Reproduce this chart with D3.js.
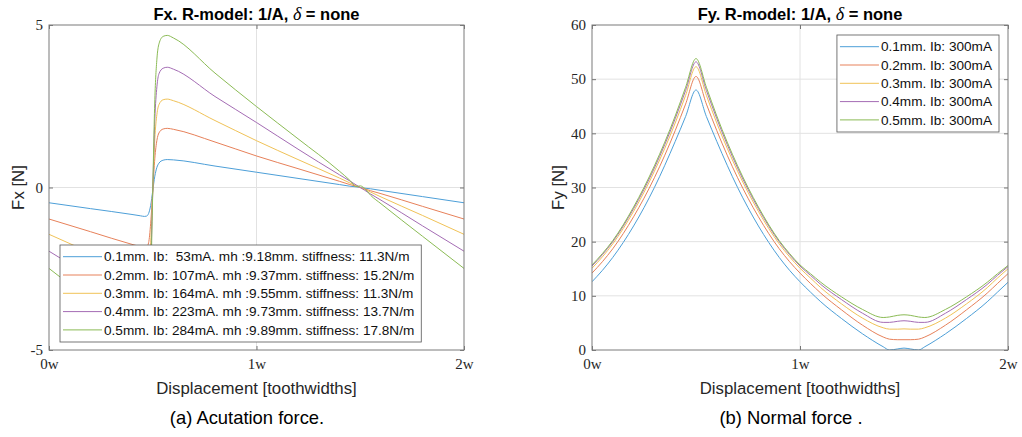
<!DOCTYPE html>
<html>
<head>
<meta charset="utf-8">
<script src="https://cdn.jsdelivr.net/npm/d3@7"></script>
<style>
  body { margin: 0; background: #fff; }
  svg { display: block; }
  .tick text { font-family: "Liberation Serif", serif; font-size: 15px; fill: #262626; }
  .lbl { font-family: "Liberation Sans", Arial, sans-serif; fill: #262626; }
</style>
</head>
<body>
<div id="chart"></div>
<script>
// ---- data ----
const X_TICKS = [0, 1, 2];
const X_TICK_LABELS = ["0w", "1w", "2w"];

// actuation force Fx [N]
const FX_X = [0, 0.2, 0.4, 0.44, 0.46, 0.47, 0.48, 0.49, 0.5, 0.51, 0.52, 0.53, 0.55, 0.57, 0.6, 0.8, 1.0, 1.2, 1.4, 1.45, 1.48, 1.5, 1.52, 1.55, 1.6, 1.8, 2.0];
const FX_01 = [-0.47, -0.65, -0.83, -0.87, -0.89, -0.88, -0.8, -0.55, -0.1, 0.35, 0.62, 0.75, 0.84, 0.86, 0.85, 0.66, 0.47, 0.28, 0.09, 0.04, 0.02, 0.0, -0.02, -0.04, -0.09, -0.28, -0.47];
const FX_02 = [-0.97, -1.36, -1.75, -1.82, -1.85, -1.84, -1.7, -1.1, -0.1, 0.9, 1.45, 1.68, 1.8, 1.82, 1.79, 1.4, 0.97, 0.58, 0.19, 0.09, 0.04, 0.0, -0.04, -0.1, -0.19, -0.58, -0.97];
const FX_03 = [-1.44, -2.01, -2.58, -2.68, -2.74, -2.74, -2.6, -1.7, -0.1, 1.5, 2.25, 2.55, 2.7, 2.72, 2.67, 2.06, 1.44, 0.86, 0.29, 0.14, 0.06, 0.0, -0.06, -0.14, -0.29, -0.86, -1.44];
const FX_04 = [-1.96, -2.74, -3.53, -3.65, -3.7, -3.7, -3.5, -2.4, -0.1, 2.1, 3.1, 3.5, 3.67, 3.7, 3.64, 2.8, 2.0, 1.18, 0.39, 0.2, 0.08, 0.0, -0.08, -0.2, -0.39, -1.18, -1.96];
const FX_05 = [-2.49, -3.48, -4.47, -4.62, -4.67, -4.66, -4.4, -3.0, -0.1, 2.7, 3.95, 4.42, 4.65, 4.68, 4.6, 3.52, 2.49, 1.5, 0.5, 0.22, 0.03, 0.05, -0.02, -0.24, -0.5, -1.5, -2.49];
const FX_Y_TICKS = [-5, 0, 5];
const FX_LABELS = [
  "0.1mm. Ib:  53mA. mh :9.18mm. stiffness: 11.3N/m",
  "0.2mm. Ib: 107mA. mh :9.37mm. stiffness: 15.2N/m",
  "0.3mm. Ib: 164mA. mh :9.55mm. stiffness: 11.3N/m",
  "0.4mm. Ib: 223mA. mh :9.73mm. stiffness: 13.7N/m",
  "0.5mm. Ib: 284mA. mh :9.89mm. stiffness: 17.8N/m"
];

// normal force Fy [N]
const FY_X = [0, 0.05, 0.1, 0.2, 0.3, 0.4, 0.45, 0.5, 0.55, 0.6, 0.7, 0.8, 0.9, 0.95, 1.0, 1.05, 1.1, 1.2, 1.3, 1.4, 1.43, 1.47, 1.5, 1.53, 1.57, 1.6, 1.7, 1.8, 1.9, 1.95, 2.0];
const FY_01 = [12.6, 14.7, 17.1, 22.9, 30.0, 38.5, 43.1, 48.0, 43.1, 38.5, 30.0, 22.9, 17.1, 14.7, 12.6, 10.7, 8.9, 5.8, 3.0, 0.6, 0.0, 0.2, 0.35, 0.2, 0.0, 0.6, 3.0, 5.8, 8.9, 10.7, 12.5];
const FY_02 = [14.2, 16.3, 18.7, 24.6, 31.8, 40.5, 45.4, 50.5, 45.4, 40.5, 31.8, 24.6, 18.7, 16.3, 14.2, 12.3, 10.5, 7.4, 4.6, 2.4, 2.0, 1.9, 1.9, 1.9, 2.0, 2.4, 4.6, 7.4, 10.5, 12.3, 14.1];
const FY_03 = [15.1, 17.2, 19.6, 25.6, 33.0, 41.9, 47.0, 52.3, 47.0, 41.9, 33.0, 25.6, 19.6, 17.2, 15.1, 13.3, 11.5, 8.5, 5.9, 4.1, 3.85, 3.85, 3.9, 3.85, 3.85, 4.1, 5.9, 8.5, 11.5, 13.3, 15.0];
const FY_04 = [15.5, 17.6, 20.0, 26.1, 33.6, 42.7, 47.9, 53.2, 47.9, 42.7, 33.6, 26.1, 20.0, 17.6, 15.5, 13.8, 12.1, 9.3, 6.8, 5.1, 5.1, 5.3, 5.4, 5.3, 5.1, 5.1, 6.8, 9.3, 12.1, 13.8, 15.4];
const FY_05 = [15.7, 17.8, 20.2, 26.4, 34.0, 43.2, 48.5, 53.8, 48.5, 43.2, 34.0, 26.4, 20.2, 17.8, 15.7, 14.1, 12.5, 9.8, 7.5, 6.0, 6.1, 6.4, 6.5, 6.4, 6.1, 6.0, 7.5, 9.8, 12.5, 14.1, 15.6];
const FY_Y_TICKS = [0, 10, 20, 30, 40, 50, 60];
const FY_LABELS = [
  "0.1mm. Ib: 300mA",
  "0.2mm. Ib: 300mA",
  "0.3mm. Ib: 300mA",
  "0.4mm. Ib: 300mA",
  "0.5mm. Ib: 300mA"
];

const COLORS = ["#4d9fd8", "#e7815a", "#f0c257", "#a46cb4", "#8bbb55"];

// ---- frame ----
const FRAME_WIDTH = 1022;
const FRAME_HEIGHT = 437;

const FRAME = d3.select("#chart")
                .append("svg")
                  .attr("width", FRAME_WIDTH)
                  .attr("height", FRAME_HEIGHT);

// builds one panel (axes box, grid, curves, legend, labels)
function build_panel(p) {
    const X_SCALE = d3.scaleLinear().domain([0, 2]).range([p.left, p.right]);
    const Y_SCALE = d3.scaleLinear().domain(p.yDomain).range([p.bottom, p.top]);

    const g = FRAME.append("g");

    // grid
    g.selectAll(".gx").data(p.gridX).enter().append("line")
        .attr("x1", (d) => X_SCALE(d)).attr("x2", (d) => X_SCALE(d))
        .attr("y1", p.top).attr("y2", p.bottom)
        .attr("stroke", "#e2e2e2").attr("stroke-width", 1);
    g.selectAll(".gy").data(p.gridY).enter().append("line")
        .attr("x1", p.left).attr("x2", p.right)
        .attr("y1", (d) => Y_SCALE(d)).attr("y2", (d) => Y_SCALE(d))
        .attr("stroke", "#e2e2e2").attr("stroke-width", 1);

    // clip
    g.append("clipPath").attr("id", "clip" + p.id)
      .append("rect")
        .attr("x", p.left).attr("y", p.top)
        .attr("width", p.right - p.left).attr("height", p.bottom - p.top);

    const line = d3.line()
        .x((d) => X_SCALE(d[0]))
        .y((d) => Y_SCALE(d[1]))
        .curve(d3.curveMonotoneX);

    g.append("g").attr("clip-path", "url(#clip" + p.id + ")")
      .selectAll("path")
      .data(p.series)
      .enter()
      .append("path")
        .attr("d", (s) => line(p.xs.map((x, i) => [x, s[i]])))
        .attr("fill", "none")
        .attr("stroke", (s, i) => COLORS[i])
        .attr("stroke-width", 1);

    // axes, ticks point inward like MATLAB
    g.append("g")
        .attr("transform", "translate(0," + p.bottom + ")")
        .call(d3.axisBottom(X_SCALE).tickValues(X_TICKS)
              .tickFormat((d, i) => X_TICK_LABELS[i])
              .tickSize(-4).tickSizeOuter(0).tickPadding(8));
    g.append("g")
        .attr("transform", "translate(0," + p.top + ")")
        .call(d3.axisTop(X_SCALE).tickValues(X_TICKS).tickFormat("")
              .tickSize(-4).tickSizeOuter(0));
    g.append("g")
        .attr("transform", "translate(" + p.left + ",0)")
        .call(d3.axisLeft(Y_SCALE).tickValues(p.yTicks)
              .tickFormat((d) => String(d).replace("\u2212", "-"))
              .tickSize(-4).tickSizeOuter(0).tickPadding(6));
    g.append("g")
        .attr("transform", "translate(" + p.right + ",0)")
        .call(d3.axisRight(Y_SCALE).tickValues(p.yTicks).tickFormat("")
              .tickSize(-4).tickSizeOuter(0));
    g.selectAll(".domain").remove();
    g.selectAll(".tick line").attr("stroke", "#555").attr("stroke-width", 0.8);

    // box
    g.append("rect")
        .attr("x", p.left).attr("y", p.top)
        .attr("width", p.right - p.left).attr("height", p.bottom - p.top)
        .attr("fill", "none").attr("stroke", "#7a7a7a").attr("stroke-width", 1);

    // title
    const title = g.append("text").attr("class", "lbl")
        .attr("x", (p.left + p.right) / 2).attr("y", 20)
        .attr("text-anchor", "middle")
        .style("font-size", "16.5px").style("font-weight", "bold")
        .style("fill", "#000");
    title.append("tspan").text(p.title + " ");
    title.append("tspan")
        .style("font-family", "'Liberation Serif', serif")
        .style("font-style", "italic").style("font-weight", "normal")
        .style("font-size", "18px")
        .text("\u03B4");
    title.append("tspan").text(" = none");

    // axis labels
    g.append("text").attr("class", "lbl")
        .attr("x", (p.left + p.right) / 2).attr("y", 394)
        .attr("text-anchor", "middle").style("font-size", "16.8px")
        .text("Displacement [toothwidths]");
    g.append("text").attr("class", "lbl")
        .attr("transform", "translate(" + (p.left - p.yLabelOffset) + "," + ((p.top + p.bottom) / 2) + ") rotate(-90)")
        .attr("text-anchor", "middle").style("font-size", "16.8px")
        .text(p.yLabel);

    // caption
    g.append("text").attr("class", "lbl")
        .attr("x", p.captionX).attr("y", 424)
        .attr("text-anchor", "middle").style("font-size", "18.4px")
        .style("fill", "#000")
        .text(p.caption);

    // legend
    const leg = g.append("g");
    const box = leg.append("rect")
        .attr("fill", "#fff").attr("stroke", "#555").attr("stroke-width", 0.8);
    const texts = leg.selectAll(".lt").data(p.labels).enter().append("text")
        .attr("class", "lbl")
        .attr("xml:space", "preserve")
        .style("white-space", "pre")
        .style("font-size", "13.6px").style("fill", "#111")
        .attr("x", 44).attr("y", (d, i) => 11.7 + i * 18.3)
        .attr("dy", "0.35em")
        .text((d) => d);
    leg.selectAll(".ll").data(p.labels).enter().append("line")
        .attr("x1", 3).attr("x2", 42)
        .attr("y1", (d, i) => 11.7 + i * 18.3).attr("y2", (d, i) => 11.7 + i * 18.3)
        .attr("stroke", (d, i) => COLORS[i]).attr("stroke-width", 1);
    let tw = 0;
    texts.each(function () { tw = Math.max(tw, this.getComputedTextLength()); });
    const lw = 44 + tw + 7;
    box.attr("x", 0).attr("y", 0).attr("width", lw).attr("height", 97);
    const lx = p.legendAnchor === "left" ? p.legendX : p.legendX - lw;
    leg.attr("transform", "translate(" + lx + "," + p.legendY + ")");
}

build_panel({
    id: "fx", left: 49, right: 464, top: 25, bottom: 350,
    yDomain: [-5, 5], yTicks: FX_Y_TICKS, gridX: [1], gridY: [0],
    xs: FX_X, series: [FX_01, FX_02, FX_03, FX_04, FX_05],
    title: "Fx. R-model: 1/A,", yLabel: "Fx [N]", yLabelOffset: 25,
    caption: "(a) Acutation force.", captionX: 247,
    labels: FX_LABELS, legendAnchor: "left", legendX: 60, legendY: 245
});

build_panel({
    id: "fy", left: 592, right: 1008, top: 25, bottom: 350,
    yDomain: [0, 60], yTicks: FY_Y_TICKS, gridX: [1], gridY: [10, 20, 30, 40, 50],
    xs: FY_X, series: [FY_01, FY_02, FY_03, FY_04, FY_05],
    title: "Fy. R-model: 1/A,", yLabel: "Fy [N]", yLabelOffset: 28,
    caption: "(b) Normal force .", captionX: 791,
    labels: FY_LABELS, legendAnchor: "right", legendX: 999, legendY: 35
});
</script>
</body>
</html>
